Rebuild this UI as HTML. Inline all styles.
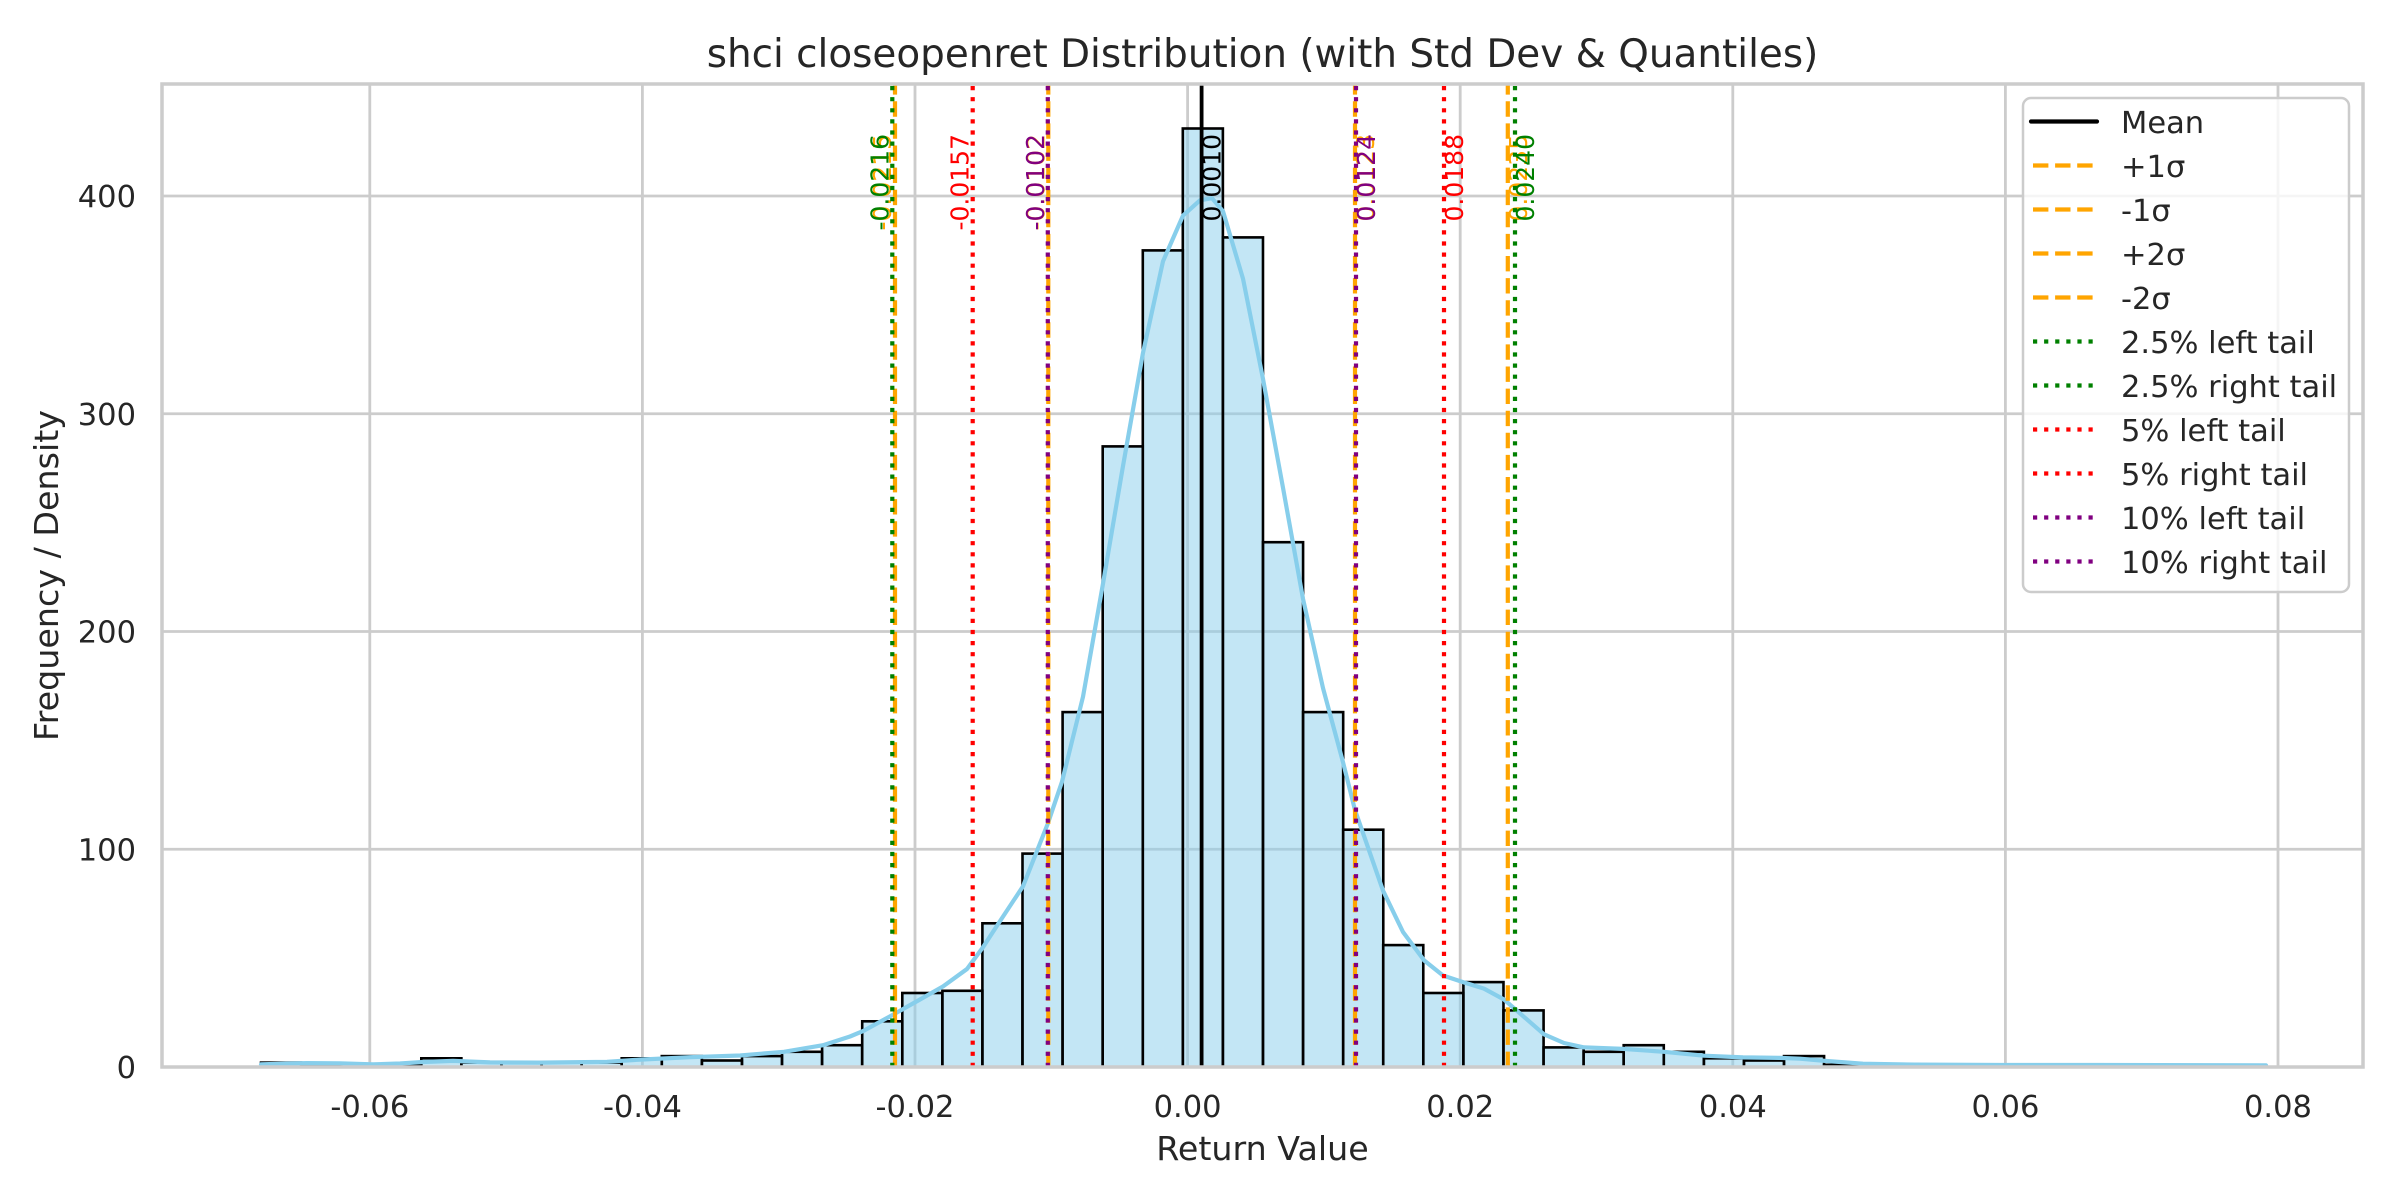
<!DOCTYPE html>
<html><head><meta charset="utf-8"><style>
html,body{margin:0;padding:0;background:#fff;overflow:hidden;}
svg{display:block;}
text{font-family:"DejaVu Sans","Liberation Sans",sans-serif;fill:#262626;}
</style></head><body>
<svg width="2400" height="1200" viewBox="0 0 2400 1200" xmlns="http://www.w3.org/2000/svg">
<rect width="2400" height="1200" fill="#fff"/>
<!-- grid -->
<g stroke="#cccccc" stroke-width="2.8">
<line x1="369.8" y1="84" x2="369.8" y2="1067"/>
<line x1="642.4" y1="84" x2="642.4" y2="1067"/>
<line x1="915.0" y1="84" x2="915.0" y2="1067"/>
<line x1="1187.6" y1="84" x2="1187.6" y2="1067"/>
<line x1="1460.2" y1="84" x2="1460.2" y2="1067"/>
<line x1="1732.8" y1="84" x2="1732.8" y2="1067"/>
<line x1="2005.4" y1="84" x2="2005.4" y2="1067"/>
<line x1="2278.0" y1="84" x2="2278.0" y2="1067"/>
<line x1="162" y1="849.25" x2="2363" y2="849.25"/>
<line x1="162" y1="631.5" x2="2363" y2="631.5"/>
<line x1="162" y1="413.75" x2="2363" y2="413.75"/>
<line x1="162" y1="196" x2="2363" y2="196"/>
</g>
<!-- bars -->
<g fill="#87CEEB" fill-opacity="0.5" stroke="#000" stroke-width="2.6">
<rect x="261" y="1062.6" width="40.08" height="4.4"/>
<rect x="301.1" y="1064.8" width="40.08" height="2.2"/>
<rect x="341.2" y="1064.8" width="40.08" height="2.2"/>
<rect x="381.2" y="1064.8" width="40.08" height="2.2"/>
<rect x="421.3" y="1058.3" width="40.08" height="8.7"/>
<rect x="461.4" y="1062.6" width="40.08" height="4.4"/>
<rect x="501.5" y="1062.6" width="40.08" height="4.4"/>
<rect x="541.6" y="1062.6" width="40.08" height="4.4"/>
<rect x="581.6" y="1062.6" width="40.08" height="4.4"/>
<rect x="621.7" y="1058.3" width="40.08" height="8.7"/>
<rect x="661.8" y="1056.1" width="40.08" height="10.9"/>
<rect x="701.9" y="1060.5" width="40.08" height="6.5"/>
<rect x="742.0" y="1056.1" width="40.08" height="10.9"/>
<rect x="782.0" y="1051.8" width="40.08" height="15.2"/>
<rect x="822.1" y="1045.2" width="40.08" height="21.8"/>
<rect x="862.2" y="1021.3" width="40.08" height="45.7"/>
<rect x="902.3" y="993.0" width="40.08" height="74.0"/>
<rect x="942.4" y="990.8" width="40.08" height="76.2"/>
<rect x="982.4" y="923.3" width="40.08" height="143.7"/>
<rect x="1022.5" y="853.6" width="40.08" height="213.4"/>
<rect x="1062.6" y="712.1" width="40.08" height="354.9"/>
<rect x="1102.7" y="446.4" width="40.08" height="620.6"/>
<rect x="1142.8" y="250.4" width="40.08" height="816.6"/>
<rect x="1182.8" y="128.5" width="40.08" height="938.5"/>
<rect x="1222.9" y="237.4" width="40.08" height="829.6"/>
<rect x="1263.0" y="542.2" width="40.08" height="524.8"/>
<rect x="1303.1" y="712.1" width="40.08" height="354.9"/>
<rect x="1343.2" y="829.7" width="40.08" height="237.3"/>
<rect x="1383.2" y="945.1" width="40.08" height="121.9"/>
<rect x="1423.3" y="993.0" width="40.08" height="74.0"/>
<rect x="1463.4" y="982.1" width="40.08" height="84.9"/>
<rect x="1503.5" y="1010.4" width="40.08" height="56.6"/>
<rect x="1543.6" y="1047.4" width="40.08" height="19.6"/>
<rect x="1583.6" y="1051.8" width="40.08" height="15.2"/>
<rect x="1623.7" y="1045.2" width="40.08" height="21.8"/>
<rect x="1663.8" y="1051.8" width="40.08" height="15.2"/>
<rect x="1703.9" y="1058.3" width="40.08" height="8.7"/>
<rect x="1744.0" y="1060.5" width="40.08" height="6.5"/>
<rect x="1784.0" y="1056.1" width="40.08" height="10.9"/>
<rect x="1824.1" y="1064.8" width="40.08" height="2.2"/>
<rect x="1864.2" y="1064.8" width="40.08" height="2.2"/>
<rect x="2064.6" y="1064.8" width="40.08" height="2.2"/>
<rect x="2224.9" y="1064.8" width="40.08" height="2.2"/>
</g>
<!-- KDE -->
<polyline fill="none" stroke="#87CEEB" stroke-width="4.2" stroke-linejoin="round" stroke-linecap="round"
points="261,1064.4 290,1063.5 307,1063.1 340,1063.3 373,1064.4 400,1063.5 423,1062.0 453,1060.9 490,1062.4 540,1062.6 607,1061.8 640,1059.6 690,1057.2 740,1055.5 784,1051.8 823,1045.2 850,1036.5 863,1031.1 893,1014.7 920,999.5 943,986.4 967,969.0 983,947.2 1000,921.1 1023,886.3 1048,823.1 1062,781.7 1083,696.8 1103,583.6 1123,466.0 1143,352.8 1163,261.3 1183,215.6 1200,200.3 1212,198.2 1223,211.2 1243,278.7 1263,378.9 1283,487.8 1303,598.8 1323,688.1 1343,762.2 1355,810.1 1383,890.6 1403,932.0 1424,960.3 1443,975.5 1463,982.1 1484,988.6 1504,999.5 1524,1016.9 1544,1034.3 1564,1043.0 1584,1047.4 1623,1048.9 1664,1051.8 1704,1055.7 1743,1057.4 1780,1057.9 1800,1058.7 1825,1060.9 1863,1063.7 1915,1064.6 2000,1065.0 2100,1065.0 2266,1065.3"/>
<!-- vertical lines and labels -->
<g font-size="25">
<line x1="1201.6" y1="1067" x2="1201.6" y2="84" stroke="#000" stroke-width="3.8"/>
<text transform="translate(1220.6,134) rotate(-90)" text-anchor="end" style="fill:#000">0.0010</text>

<line x1="1355.0" y1="1067" x2="1355.0" y2="84" stroke="#FFA500" stroke-width="4.2" stroke-dasharray="15.4 6.7"/>
<text transform="translate(1374,134) rotate(-90)" text-anchor="end" style="fill:#FFA500">0.0123</text>
<line x1="1048.3" y1="1067" x2="1048.3" y2="84" stroke="#FFA500" stroke-width="4.2" stroke-dasharray="15.4 6.7"/>
<text transform="translate(1044.3,134) rotate(-90)" text-anchor="end" style="fill:#FFA500">-0.0102</text>
<line x1="1507.8" y1="1067" x2="1507.8" y2="84" stroke="#FFA500" stroke-width="4.2" stroke-dasharray="15.4 6.7"/>
<text transform="translate(1526.8,134) rotate(-90)" text-anchor="end" style="fill:#FFA500">0.0235</text>
<line x1="895.0" y1="1067" x2="895.0" y2="84" stroke="#FFA500" stroke-width="4.2" stroke-dasharray="15.4 6.7"/>
<text transform="translate(891,134) rotate(-90)" text-anchor="end" style="fill:#FFA500">-0.0215</text>

<line x1="892.3" y1="1067" x2="892.3" y2="84" stroke="#008000" stroke-width="4.2" stroke-dasharray="4.2 6.9"/>
<text transform="translate(888.3,134) rotate(-90)" text-anchor="end" style="fill:#008000">-0.0216</text>
<line x1="1515.0" y1="1067" x2="1515.0" y2="84" stroke="#008000" stroke-width="4.2" stroke-dasharray="4.2 6.9"/>
<text transform="translate(1534,134) rotate(-90)" text-anchor="end" style="fill:#008000">0.0240</text>

<line x1="972.7" y1="1067" x2="972.7" y2="84" stroke="#FF0000" stroke-width="4.2" stroke-dasharray="4.2 6.9"/>
<text transform="translate(968.7,134) rotate(-90)" text-anchor="end" style="fill:#FF0000">-0.0157</text>
<line x1="1444.0" y1="1067" x2="1444.0" y2="84" stroke="#FF0000" stroke-width="4.2" stroke-dasharray="4.2 6.9"/>
<text transform="translate(1463,134) rotate(-90)" text-anchor="end" style="fill:#FF0000">0.0188</text>

<line x1="1047.8" y1="1067" x2="1047.8" y2="84" stroke="#800080" stroke-width="4.2" stroke-dasharray="4.2 6.9"/>
<text transform="translate(1043.8,134) rotate(-90)" text-anchor="end" style="fill:#800080">-0.0102</text>
<line x1="1356.0" y1="1067" x2="1356.0" y2="84" stroke="#800080" stroke-width="4.2" stroke-dasharray="4.2 6.9"/>
<text transform="translate(1375,134) rotate(-90)" text-anchor="end" style="fill:#800080">0.0124</text>
</g>
<!-- spines -->
<rect x="162" y="84" width="2201" height="983" fill="none" stroke="#cccccc" stroke-width="3.5"/>
<!-- tick labels -->
<g font-size="30.5" text-anchor="middle">
<text x="369.8" y="1117">-0.06</text>
<text x="642.4" y="1117">-0.04</text>
<text x="915.0" y="1117">-0.02</text>
<text x="1187.6" y="1117">0.00</text>
<text x="1460.2" y="1117">0.02</text>
<text x="1732.8" y="1117">0.04</text>
<text x="2005.4" y="1117">0.06</text>
<text x="2278.0" y="1117">0.08</text>
</g>
<g font-size="30.5" text-anchor="end">
<text x="136" y="1078">0</text>
<text x="136" y="860.5">100</text>
<text x="136" y="642.5">200</text>
<text x="136" y="425">300</text>
<text x="136" y="207">400</text>
</g>
<!-- axis labels -->
<text x="1262.5" y="1160" font-size="33.3" text-anchor="middle">Return Value</text>
<text transform="translate(58,575.5) rotate(-90)" font-size="33.3" text-anchor="middle">Frequency / Density</text>
<!-- title -->
<text x="1262.5" y="67" font-size="38.9" text-anchor="middle">shci closeopenret Distribution (with Std Dev &amp; Quantiles)</text>
<!-- legend -->
<rect x="2023" y="98" width="326" height="494" rx="8" ry="8" fill="#fff" fill-opacity="0.8" stroke="#cccccc" stroke-width="2.5"/>
<g stroke-width="4.2">
<line x1="2031" y1="121.5" x2="2097" y2="121.5" stroke="#000" stroke-linecap="round"/>
<line x1="2033" y1="165.5" x2="2094" y2="165.5" stroke="#FFA500" stroke-dasharray="15.4 6.7"/>
<line x1="2033" y1="209.5" x2="2094" y2="209.5" stroke="#FFA500" stroke-dasharray="15.4 6.7"/>
<line x1="2033" y1="253.5" x2="2094" y2="253.5" stroke="#FFA500" stroke-dasharray="15.4 6.7"/>
<line x1="2033" y1="297.5" x2="2094" y2="297.5" stroke="#FFA500" stroke-dasharray="15.4 6.7"/>
<line x1="2033" y1="341.5" x2="2094" y2="341.5" stroke="#008000" stroke-dasharray="4.2 6.9"/>
<line x1="2033" y1="385.5" x2="2094" y2="385.5" stroke="#008000" stroke-dasharray="4.2 6.9"/>
<line x1="2033" y1="429.5" x2="2094" y2="429.5" stroke="#FF0000" stroke-dasharray="4.2 6.9"/>
<line x1="2033" y1="473.5" x2="2094" y2="473.5" stroke="#FF0000" stroke-dasharray="4.2 6.9"/>
<line x1="2033" y1="517.5" x2="2094" y2="517.5" stroke="#800080" stroke-dasharray="4.2 6.9"/>
<line x1="2033" y1="561.5" x2="2094" y2="561.5" stroke="#800080" stroke-dasharray="4.2 6.9"/>
</g>
<g font-size="30.5">
<text x="2121" y="133">Mean</text>
<text x="2121" y="177">+1σ</text>
<text x="2121" y="221">-1σ</text>
<text x="2121" y="265">+2σ</text>
<text x="2121" y="309">-2σ</text>
<text x="2121" y="353">2.5% left tail</text>
<text x="2121" y="397">2.5% right tail</text>
<text x="2121" y="441">5% left tail</text>
<text x="2121" y="485">5% right tail</text>
<text x="2121" y="529">10% left tail</text>
<text x="2121" y="573">10% right tail</text>
</g>
</svg>
</body></html>
